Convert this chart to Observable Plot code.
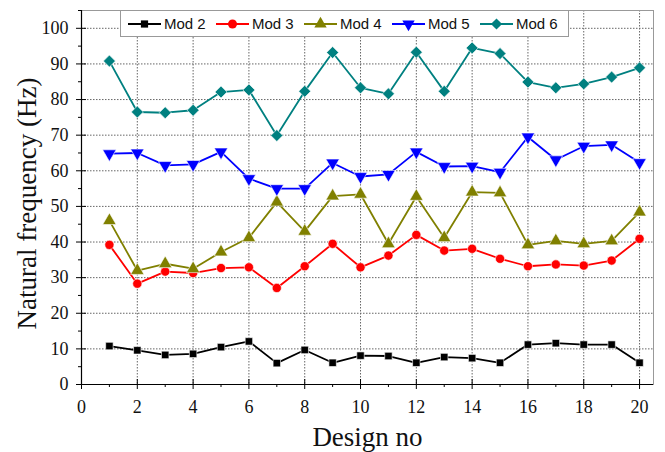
<!DOCTYPE html>
<html>
<head>
<meta charset="utf-8">
<script src="https://cdn.jsdelivr.net/npm/d3@7"></script>
<script src="https://cdn.jsdelivr.net/npm/@observablehq/plot@0.6"></script>
<style>
  body { margin: 0; background: #fff; }
  #wrap { position: relative; width: 665px; height: 452px; }
  #legend {
    position: absolute; left: 120px; top: 10px; width: 440px; height: 25px;
    border: 1px solid #999; background: #fff; display: flex; align-items: center;
    font-family: "Liberation Sans", Arial, sans-serif; font-size: 15px; color: #111;
    padding-left: 7px; box-sizing: content-box;
  }
  #legend .item { display: flex; align-items: center; width: 89px; }
  #legend svg { margin-right: 3px; }
</style>
</head>
<body>
<div id="wrap"><div id="legend"></div></div>
<script>
const designs = [1,2,3,4,5,6,7,8,9,10,11,12,13,14,15,16,17,18,19,20];
const mod2 = [10.8,9.6,8.3,8.6,10.5,12.1,6.0,9.7,6.1,8.1,8.0,6.1,7.7,7.4,6.1,11.2,11.6,11.2,11.2,6.1];
const mod3 = [39.2,28.3,31.7,31.3,32.7,32.9,27.1,33.2,39.5,32.9,36.2,42.0,37.6,38.1,35.3,33.2,33.7,33.4,34.8,40.9];
const mod4 = [46.0,32.0,33.9,32.5,37.2,41.2,51.2,43.0,52.9,53.4,39.5,52.8,41.2,54.0,53.8,39.2,40.3,39.5,40.3,48.4];
const mod5 = [64.8,65.0,61.5,61.8,65.3,57.8,55.0,55.0,62.2,58.4,59.0,65.3,61.2,61.3,59.6,69.5,63.1,66.9,67.3,62.3];
const mod6 = [90.8,76.5,76.3,77.0,82.1,82.7,69.9,82.3,93.2,83.3,81.6,93.3,82.3,94.5,92.9,84.9,83.3,84.4,86.3,88.9];
const seriesNames = ["Mod 2","Mod 3","Mod 4","Mod 5","Mod 6"];
const seriesValues = [mod2, mod3, mod4, mod5, mod6];
const seriesColors = ["#000000","#ff0000","#808000","#0000ff","#008080"];
const seriesSymbols = ["square","circle","triangle","triangle","diamond2"];
const seriesRotate = [0,0,0,180,0];
const seriesR = [4.2,4.6,5,5,5.4];
const xTicks = [0,2,4,6,8,10,12,14,16,18,20];
const xMinor = [1,3,5,7,9,11,13,15,17,19];
const yTicks = [0,10,20,30,40,50,60,70,80,90,100];
const yMinor = [5,15,25,35,45,55,65,75,85,95,105];
const xLabel = "Design no";
const yLabel = "Natural frequency (Hz)";

const rows = [];
seriesNames.forEach((name, si) => {
  designs.forEach((d, i) => rows.push({design: d, value: seriesValues[si][i], series: name, si}));
});

const serif = "'Liberation Serif', 'Times New Roman', serif";
const gridStyle = {stroke: "#666", strokeOpacity: 1, strokeDasharray: "1.5,1.5", strokeWidth: 1};

const marks = [
  Plot.ruleX(xTicks.filter(t => t > 0), {x: d => d, ...gridStyle}),
  Plot.ruleY(yTicks.filter(t => t > 0), {y: d => d, ...gridStyle}),
  Plot.frame({stroke: "#999"}),
  Plot.axisX(xTicks, {tickSize: 5, tickPadding: 11, fontSize: 18, fontFamily: serif, fill: "#111", label: null}),
  Plot.axisX(xMinor, {tickSize: 3, tickFormat: () => "", label: null}),
  Plot.axisX(xTicks, {tickSize: -5, tickFormat: () => "", label: null}),
  Plot.axisY(yTicks, {tickSize: 5, tickPadding: 8, fontSize: 18, fontFamily: serif, fill: "#111", label: null}),
  Plot.axisY(yMinor, {tickSize: 3, tickFormat: () => "", label: null}),
  Plot.axisY(yTicks, {tickSize: -5, tickFormat: () => "", label: null}),
  Plot.ruleX([0], {stroke: "#000", strokeWidth: 1.2}),
  Plot.ruleY([0], {stroke: "#000", strokeWidth: 1.2}),
  Plot.text([xLabel], {frameAnchor: "bottom", textAnchor: "middle", lineAnchor: "middle", dy: 53, fontSize: 27, fontFamily: serif, fill: "#111", text: d => d}),
  Plot.text([yLabel], {frameAnchor: "left", textAnchor: "middle", lineAnchor: "middle", dx: -54, dy: 6, rotate: -90, fontSize: 27, fontFamily: serif, fill: "#111", text: d => d})
];
seriesNames.forEach((name, si) => {
  const data = rows.filter(r => r.si === si);
  marks.push(Plot.line(data, {x: "design", y: "value", stroke: seriesColors[si], strokeWidth: 1.8}));
  marks.push(Plot.dot(data, {x: "design", y: "value", fill: seriesColors[si], stroke: "#fff", strokeWidth: 0.6,
    symbol: () => seriesSymbols[si], r: seriesR[si], rotate: seriesRotate[si]}));
});

const chart = Plot.plot({
  width: 665, height: 452,
  marginLeft: 81, marginRight: 12, marginTop: 10, marginBottom: 68,
  x: {domain: [0, 20.5], axis: null},
  y: {domain: [0, 105], axis: null},
  symbol: {type: "identity"},
  style: {background: "#fff", overflow: "visible"},
  marks
});
const wrap = document.getElementById("wrap");
wrap.insertBefore(chart, wrap.firstChild);

// legend
const legend = document.getElementById("legend");
const symPath = {
  square: d3.symbol(d3.symbolSquare, 52)(),
  circle: d3.symbol(d3.symbolCircle, 64)(),
  triangle: d3.symbol(d3.symbolTriangle, 66)(),
  diamond2: d3.symbol(d3.symbolDiamond2, 80)()
};
seriesNames.forEach((name, si) => {
  const item = document.createElement("div");
  item.className = "item";
  const ns = "http://www.w3.org/2000/svg";
  const svg = document.createElementNS(ns, "svg");
  svg.setAttribute("width", 33); svg.setAttribute("height", 16);
  const line = document.createElementNS(ns, "line");
  line.setAttribute("x1", 0); line.setAttribute("x2", 33);
  line.setAttribute("y1", 8); line.setAttribute("y2", 8);
  line.setAttribute("stroke", seriesColors[si]); line.setAttribute("stroke-width", 1.8);
  svg.appendChild(line);
  const p = document.createElementNS(ns, "path");
  p.setAttribute("d", symPath[seriesSymbols[si]]);
  p.setAttribute("fill", seriesColors[si]);
  p.setAttribute("transform", `translate(16.5,8) rotate(${seriesRotate[si]})`);
  svg.appendChild(p);
  item.appendChild(svg);
  const t = document.createElement("span");
  t.textContent = name;
  item.appendChild(t);
  legend.appendChild(item);
});
</script>
</body>
</html>
